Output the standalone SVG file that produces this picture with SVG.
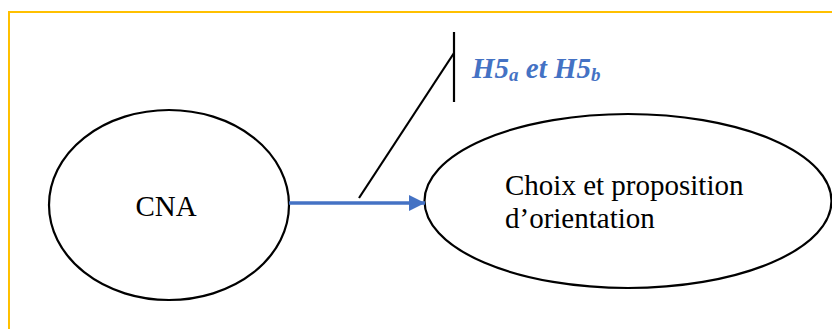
<svg xmlns="http://www.w3.org/2000/svg" width="832" height="329" viewBox="0 0 832 329">
<style>
.node{fill:#fff;stroke:#000;stroke-width:2.2}
.lbl{font-family:"Liberation Serif","Times New Roman",serif;font-size:29px;fill:#000}
.hyp{font-family:"Liberation Serif","Times New Roman",serif;font-size:29px;font-weight:bold;font-style:italic;fill:#4472C4}
.frame{fill:none;stroke:#FFC000;stroke-width:2}
.blk{stroke:#000;stroke-width:2.2;fill:none}
</style>
<defs>
<marker id="ah" markerUnits="userSpaceOnUse" markerWidth="16" markerHeight="16" refX="16" refY="8" orient="auto">
<path d="M0,0 L16,8 L0,16 Z" fill="#4472C4"/>
</marker>
</defs>
<path class="frame" d="M9,329 L9,12 L832,12"/>
<g id="node-cna">
<ellipse class="node" cx="169" cy="205" rx="120" ry="95"/>
<text class="lbl" x="166" y="216" text-anchor="middle">CNA</text>
</g>
<g id="node-choix">
<ellipse class="node" cx="628" cy="201" rx="203.5" ry="87"/>
<text class="lbl" x="505" y="195">Choix et proposition</text>
<text class="lbl" x="505" y="228">d’orientation</text>
</g>
<g id="connectors">
<line x1="289" y1="203" x2="425" y2="203" stroke="#4472C4" stroke-width="3.5" marker-end="url(#ah)"/>
<line class="blk" x1="359" y1="198" x2="454" y2="53"/>
<line class="blk" x1="454" y1="32" x2="454" y2="102"/>
</g>
<g id="label-h5">
<text class="hyp" x="472" y="78">H5<tspan font-size="19" dy="3">a</tspan><tspan dy="-3"> et H5</tspan><tspan font-size="19" dy="3">b</tspan></text>
</g>
</svg>
